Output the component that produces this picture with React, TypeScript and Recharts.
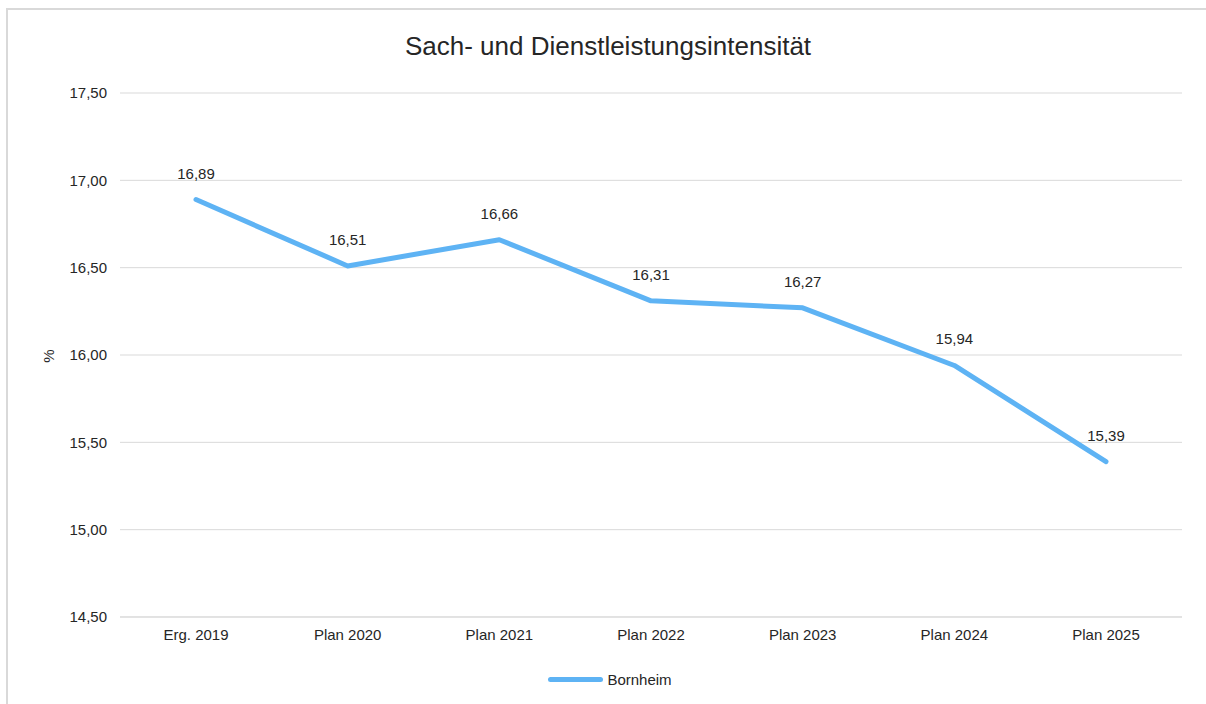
import { CartesianGrid, LabelList, Legend, Line, LineChart, XAxis, YAxis } from "recharts";

const categories = ["Erg. 2019", "Plan 2020", "Plan 2021", "Plan 2022", "Plan 2023", "Plan 2024", "Plan 2025"];
const bornheim = [16.89, 16.51, 16.66, 16.31, 16.27, 15.94, 15.39];
const yTicks = [14.5, 15, 15.5, 16, 16.5, 17, 17.5];

const data = categories.map((name, i) => ({ name, bornheim: bornheim[i] }));

const LINE_COLOR = "#5eb3f4";
const TEXT_COLOR = "#262626";
const FONT = "'Liberation Sans', Arial, sans-serif";

function formatDe(value: unknown) {
  const parsed = Number(value ?? 0);
  return parsed.toFixed(2).replace(".", ",");
}

function renderPercentLabel(props: any) {
  const vb = props.viewBox || {};
  const x = (vb.x ?? 0) + 10;
  const y = (vb.y ?? 0) + (vb.height ?? 0) / 2 + 1;
  return (
    <text
      x={x}
      y={y}
      transform={`rotate(-90, ${x}, ${y})`}
      textAnchor="middle"
      dominantBaseline="central"
      fill={TEXT_COLOR}
      fontSize={15}
    >
      %
    </text>
  );
}

function renderLegend() {
  return (
    <div style={{ display: "flex", justifyContent: "center", alignItems: "center", height: 20, fontFamily: FONT, fontSize: 15, color: TEXT_COLOR }}>
      <span style={{ display: "inline-block", width: 55, height: 5, borderRadius: 3, background: LINE_COLOR, marginRight: 4 }} />
      <span>Bornheim</span>
    </div>
  );
}

export default function App() {
  return (
    <div
      style={{
        position: "absolute",
        left: 6,
        top: 8,
        width: 1200,
        height: 696,
        borderTop: "2px solid #d9d9d9",
        borderLeft: "2px solid #d9d9d9",
        boxSizing: "border-box",
        overflow: "hidden",
        fontFamily: FONT,
      }}
    >
      <div
        style={{
          position: "absolute",
          top: 21,
          left: 0,
          width: 1200,
          textAlign: "center",
          fontSize: 26,
          color: TEXT_COLOR,
        }}
      >
        Sach- und Dienstleistungsintensität
      </div>
      <LineChart
        width={1196}
        height={694}
        data={data}
        margin={{ top: 83, right: 22, left: 30, bottom: 15 }}
        style={{ fontFamily: FONT }}
      >
        <CartesianGrid vertical={false} stroke="#d9d9d9" />
        <XAxis
          dataKey="name"
          padding={{ left: 76, right: 76 }}
          tickLine={false}
          axisLine={{ stroke: "#d9d9d9" }}
          tickSize={0}
          tickMargin={12}
          height={52}
          interval={0}
          tick={{ fill: TEXT_COLOR, fontSize: 15 }}
        />
        <YAxis
          domain={[14.5, 17.5]}
          ticks={yTicks}
          width={82}
          tickLine={false}
          axisLine={false}
          tickSize={0}
          tickMargin={13}
          tickFormatter={formatDe}
          tick={{ fill: TEXT_COLOR, fontSize: 15 }}
          label={{ value: "%", content: renderPercentLabel }}
        />
        <Legend verticalAlign="bottom" align="center" content={renderLegend} />
        <Line
          type="linear"
          dataKey="bornheim"
          name="Bornheim"
          stroke={LINE_COLOR}
          strokeWidth={5}
          strokeLinecap="round"
          strokeLinejoin="round"
          dot={false}
          activeDot={false}
          isAnimationActive={false}
        >
          <LabelList dataKey="bornheim" position="top" offset={21} formatter={formatDe} fill={TEXT_COLOR} fontSize={15} />
        </Line>
      </LineChart>
    </div>
  );
}
